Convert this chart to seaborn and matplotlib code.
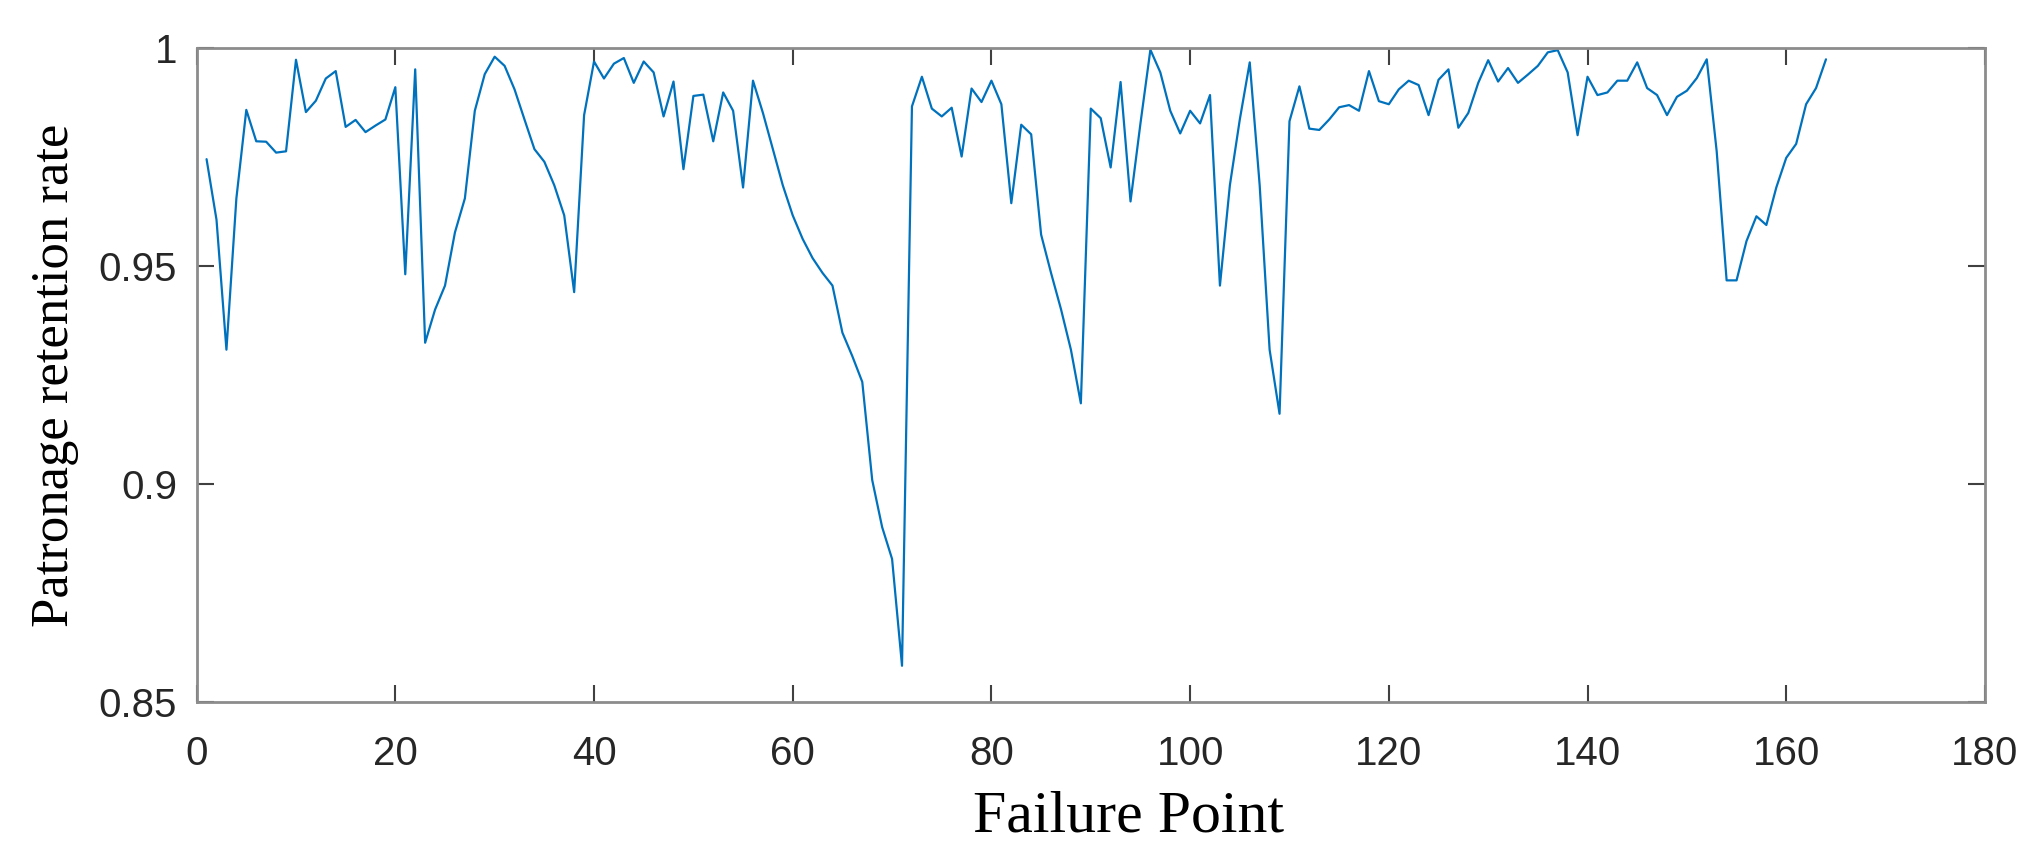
import numpy as np
import matplotlib
matplotlib.use("Agg")
import matplotlib.pyplot as plt
import seaborn as sns

# %% Data (failure point -> patronage retention rate)
failure_point = list(range(1, 165))
retention = [
    0.9745, 0.9606, 0.9308, 0.9655, 0.9858, 0.9786, 0.9785, 0.9760, 0.9763, 0.9973,
    0.9853, 0.9879, 0.9930, 0.9947, 0.9819, 0.9835, 0.9807, 0.9822, 0.9836, 0.9910,
    0.9481, 0.9951, 0.9324, 0.9400, 0.9455, 0.9577, 0.9655, 0.9856, 0.9940, 0.9980,
    0.9959, 0.9905, 0.9836, 0.9768, 0.9739, 0.9685, 0.9616, 0.9440, 0.9846, 0.9969,
    0.9930, 0.9964, 0.9977, 0.9920, 0.9969, 0.9944, 0.9843, 0.9923, 0.9722, 0.9890,
    0.9893, 0.9786, 0.9898, 0.9856, 0.9680, 0.9925, 0.9851, 0.9768, 0.9685, 0.9616,
    0.9562, 0.9518, 0.9484, 0.9455, 0.9347, 0.9293, 0.9234, 0.9009, 0.8901, 0.8828,
    0.8583, 0.9866, 0.9934, 0.9861, 0.9843, 0.9863, 0.9751, 0.9907, 0.9876, 0.9925,
    0.9871, 0.9644, 0.9824, 0.9802, 0.9572, 0.9484, 0.9401, 0.9308, 0.9185, 0.9861,
    0.9839, 0.9726, 0.9922, 0.9648, 0.9827, 0.9996, 0.9944, 0.9856, 0.9804, 0.9856,
    0.9827, 0.9892, 0.9455, 0.9685, 0.9836, 0.9967, 0.9685, 0.9308, 0.9161, 0.9832,
    0.9912, 0.9815, 0.9812, 0.9836, 0.9864, 0.9869, 0.9856, 0.9947, 0.9878, 0.9871,
    0.9905, 0.9925, 0.9915, 0.9846, 0.9927, 0.9951, 0.9817, 0.9851, 0.9920, 0.9972,
    0.9923, 0.9954, 0.9920, 0.9939, 0.9959, 0.9990, 0.9995, 0.9944, 0.9800, 0.9934,
    0.9892, 0.9898, 0.9925, 0.9925, 0.9967, 0.9908, 0.9892, 0.9846, 0.9888, 0.9902,
    0.9931, 0.9974, 0.9763, 0.9467, 0.9467, 0.9557, 0.9614, 0.9594, 0.9680, 0.9748,
    0.9780, 0.9871, 0.9908, 0.9974,
]
x_ticks = [0, 20, 40, 60, 80, 100, 120, 140, 160, 180]
y_ticks = [0.85, 0.9, 0.95, 1]
y_tick_labels = ["0.85", "0.9", "0.95", "1"]

# %% Plot
sns.set_theme(style="white")
plt.rcParams["font.family"] = ["Liberation Sans", "DejaVu Sans"]

fig = plt.figure(figsize=(20.44, 8.63), dpi=100)
ax = fig.add_axes([0.0962, 0.1866, 0.8749, 0.7578])

sns.lineplot(x=failure_point, y=retention, color="#0072BD", linewidth=1.6, ax=ax)

ax.set_xlim(0, 180)
ax.set_ylim(0.85, 1)
ax.set_xticks(x_ticks)
ax.set_yticks(y_ticks)
ax.set_yticklabels(y_tick_labels)

for side in ["left", "right", "top", "bottom"]:
    ax.spines[side].set_visible(True)
    ax.spines[side].set_color("#8c8c8c")
    ax.spines[side].set_linewidth(2)

ax.tick_params(axis="both", which="major", direction="in", length=12, width=1.5,
               color="#404040", labelsize=29, labelcolor="#262626",
               top=True, right=True, bottom=True, left=True)
ax.tick_params(axis="x", pad=24)
ax.tick_params(axis="y", pad=14)

ax.set_xlabel("Failure Point", fontsize=43, family=["Liberation Serif"], color="black")
ax.xaxis.set_label_coords(0.521, -0.135)
ax.set_ylabel("Patronage retention rate", fontsize=38, family=["Liberation Serif"], color="black", labelpad=14)

fig.savefig("out.png", dpi=100, facecolor="white")
